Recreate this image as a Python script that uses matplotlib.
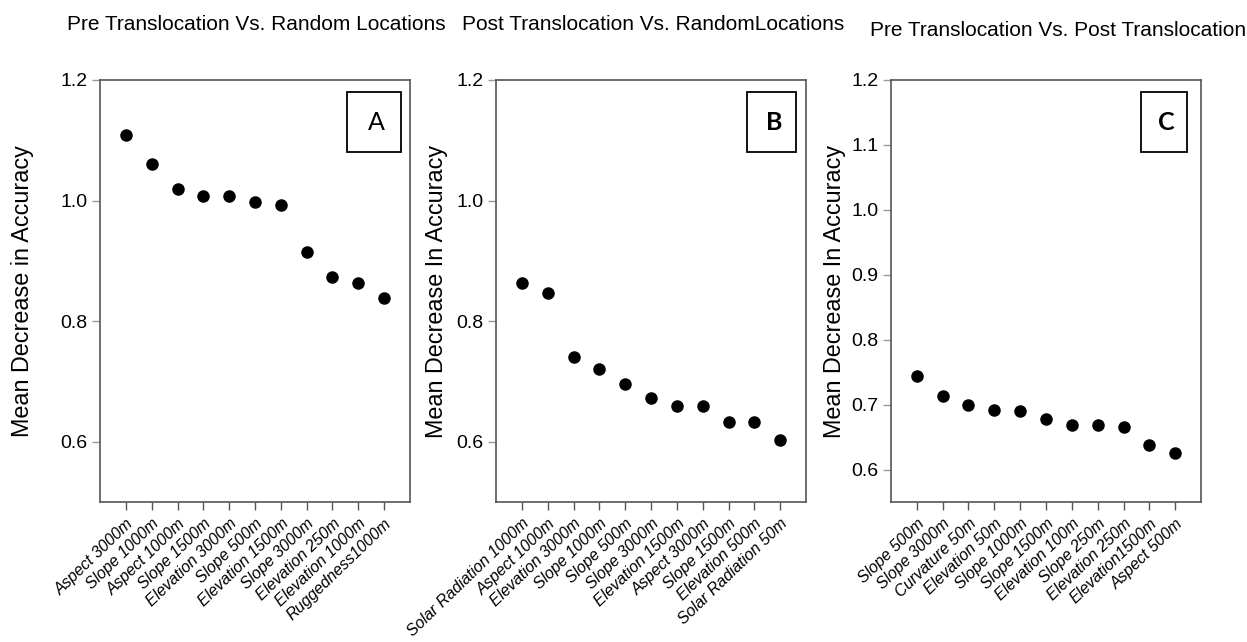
import matplotlib
matplotlib.use("Agg")
import matplotlib.pyplot as plt
from matplotlib.patches import Rectangle

W, H = 1247, 642

# panel A
labels_a = ["Aspect 3000m", "Slope 1000m", "Aspect 1000m", "Slope 1500m",
            "Elevation 3000m", "Slope 500m", "Elevation 1500m", "Slope 3000m",
            "Elevation 250m", "Elevation 1000m", "Ruggedness1000m"]
values_a = [1.109, 1.061, 1.020, 1.008, 1.008, 0.997, 0.992, 0.914, 0.874, 0.863, 0.838]

# panel B
labels_b = ["Solar Radiation 1000m", "Aspect 1000m", "Elevation 3000m", "Slope 1000m",
            "Slope 500m", "Slope 3000m", "Elevation 1500m", "Aspect 3000m",
            "Slope 1500m", "Elevation 500m", "Solar Radiation 50m"]
values_b = [0.864, 0.847, 0.740, 0.721, 0.696, 0.673, 0.660, 0.660, 0.633, 0.633, 0.603]

# panel C
labels_c = ["Slope 500m", "Slope 3000m", "Curvature 50m", "Elevation 50m", "Slope 1000m",
            "Slope 1500m", "Elevation 100m", "Slope 250m", "Elevation 250m",
            "Elevation1500m", "Aspect 500m"]
values_c = [0.744, 0.714, 0.700, 0.692, 0.690, 0.678, 0.668, 0.668, 0.665, 0.638, 0.626]

titles = ["Pre Translocation Vs. Random Locations",
          "Post Translocation Vs. RandomLocations",
          "Pre Translocation Vs. Post Translocation"]
ylabels = ["Mean Decrease in Accuracy", "Mean Decrease In Accuracy",
           "Mean Decrease In Accuracy"]
letters = ["A", "B", "C"]

SANS = ["Liberation Sans", "DejaVu Sans"]

fig = plt.figure(figsize=(W / 100, H / 100), dpi=100)


def px_axes(left, top, right, bottom):
    return fig.add_axes([left / W, 1 - bottom / H, (right - left) / W, (bottom - top) / H])


panels = [
    dict(box=(100, 80, 410, 502), ylim=(0.5, 1.2), yt=[0.6, 0.8, 1.0, 1.2],
         title_xy=(67, 25), ylab_x=23, lbox=(347, 92, 401, 152), bold=False),
    dict(box=(496, 80, 806, 502), ylim=(0.5, 1.2), yt=[0.6, 0.8, 1.0, 1.2],
         title_xy=(462, 25), ylab_x=437, lbox=(747, 92, 796, 152), bold=True),
    dict(box=(891, 80, 1201, 502), ylim=(0.55, 1.2), yt=[0.6, 0.7, 0.8, 0.9, 1.0, 1.1, 1.2],
         title_xy=(870, 30), ylab_x=835, lbox=(1141, 92, 1187, 152), bold=True),
]
data = [(labels_a, values_a), (labels_b, values_b), (labels_c, values_c)]

for i, (p, (labs, vals)) in enumerate(zip(panels, data)):
    l, t, r, b = p["box"]
    ax = px_axes(l, t, r, b)
    x = list(range(1, len(vals) + 1))
    ax.plot(x, vals, "o", color="black", markersize=8)
    ax.set_xlim(0, len(vals) + 1)
    ax.set_ylim(*p["ylim"])
    ax.set_yticks(p["yt"])
    ax.set_yticklabels([f"{v:.1f}" for v in p["yt"]], family=SANS, fontsize=14)
    ax.set_xticks(x)
    ax.set_xticklabels(labs, rotation=44, ha="right", rotation_mode="anchor",
                       family=SANS, style="italic", fontsize=11.5)
    for s in ax.spines.values():
        s.set_color("#555555")
        s.set_linewidth(1.2)
    ax.tick_params(axis="y", colors="#999999", length=6, width=1, labelcolor="black", pad=3)
    ax.tick_params(axis="x", colors="#555555", length=6, width=1, labelcolor="black", pad=4)

    tx, ty = p["title_xy"]
    fig.text(tx / W, 1 - ty / H, titles[i], family=SANS, fontsize=15,
             ha="left", va="center")
    fig.text(p["ylab_x"] / W, 1 - ((t + b) / 2) / H, ylabels[i], family=SANS,
             fontsize=16.8, rotation=90, ha="center", va="center")

    bl, bt, br, bb = p["lbox"]
    fig.patches.append(Rectangle((bl / W, 1 - bb / H), (br - bl) / W, (bb - bt) / H,
                                 transform=fig.transFigure, fill=False,
                                 edgecolor="black", linewidth=1.3))
    fig.text((bl + br) / 2 / W + 0.002, 1 - ((bt + bb) / 2) / H, letters[i],
             family=["Lato", "DejaVu Sans"], fontsize=18,
             fontweight="bold" if p["bold"] else "normal", ha="center", va="center")

fig.savefig("out.png", dpi=100)
